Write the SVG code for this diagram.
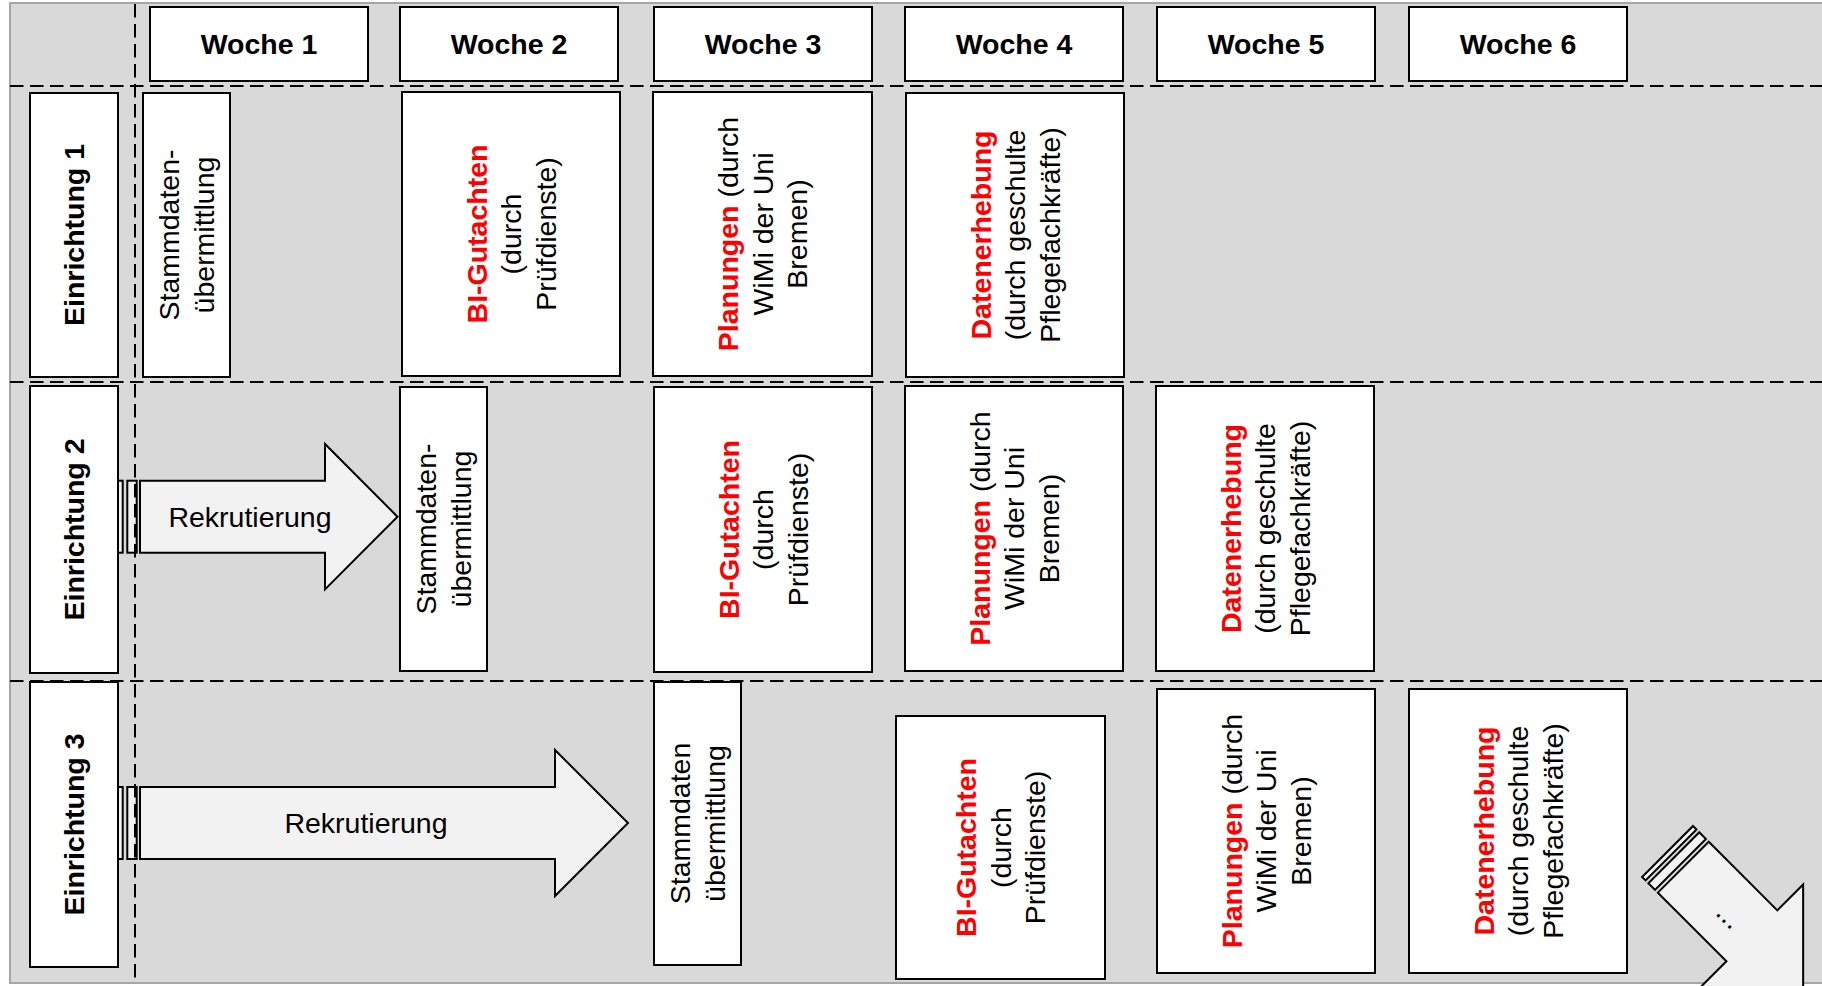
<svg xmlns="http://www.w3.org/2000/svg" width="1822" height="986" viewBox="0 0 1822 986">
<style>
text{font-family:"Liberation Sans",Arial,sans-serif;font-size:28.5px;fill:#000}
.b{font-weight:bold}
.red{fill:#ff0000;font-weight:bold}
.box{fill:#fff;stroke:#000;stroke-width:2}
.arr{fill:#f2f2f2;stroke:#000;stroke-width:2;stroke-linejoin:miter}
.grid{stroke:#000;stroke-width:2;stroke-dasharray:13.5 6.5;fill:none}
</style>
<rect x="10" y="3" width="1830" height="980" fill="#d9d9d9" stroke="#a6a6a6" stroke-width="2"/>

<g id="arrow-rekrutierung-2">
<rect class="arr" x="117.7" y="480.7" width="5" height="72"/>
<rect class="arr" x="127.3" y="480.7" width="9.4" height="72"/>
<polygon class="arr" points="140,480.7 325,480.7 325,444 397.5,516.7 325,589.4 325,552.7 140,552.7"/>
<text x="250" y="527" text-anchor="middle">Rekrutierung</text>
</g>
<g id="arrow-rekrutierung-3">
<rect class="arr" x="117.7" y="787" width="5" height="72"/>
<rect class="arr" x="127.3" y="787" width="9.4" height="72"/>
<polygon class="arr" points="140,787 555,787 555,750 628,823 555,896 555,859 140,859"/>
<text x="366" y="833" text-anchor="middle">Rekrutierung</text>
</g>
<g id="arrow-weiter" transform="translate(1683.3,867.2) rotate(45)">
<rect class="arr" x="-22.3" y="-36" width="5" height="72"/>
<rect class="arr" x="-13.4" y="-36" width="9.4" height="72"/>
<polygon class="arr" points="0,-36 97,-36 97,-72.5 169.5,0 97,72.5 97,36 0,36"/>
<text x="67" y="11" text-anchor="middle">...</text>
</g>

<g id="woche-1"><rect class="box" x="150" y="7" width="218" height="74"/><text class="b" x="259" y="54" text-anchor="middle">Woche 1</text></g>
<g id="woche-2"><rect class="box" x="400" y="7" width="218" height="74"/><text class="b" x="509" y="54" text-anchor="middle">Woche 2</text></g>
<g id="woche-3"><rect class="box" x="654" y="7" width="218" height="74"/><text class="b" x="763" y="54" text-anchor="middle">Woche 3</text></g>
<g id="woche-4"><rect class="box" x="905" y="7" width="218" height="74"/><text class="b" x="1014" y="54" text-anchor="middle">Woche 4</text></g>
<g id="woche-5"><rect class="box" x="1157" y="7" width="218" height="74"/><text class="b" x="1266" y="54" text-anchor="middle">Woche 5</text></g>
<g id="woche-6"><rect class="box" x="1409" y="7" width="218" height="74"/><text class="b" x="1518" y="54" text-anchor="middle">Woche 6</text></g>

<g id="einrichtung-1"><rect class="box" x="30" y="93" width="88" height="284"/><g transform="translate(74,235) rotate(-90)"><text class="b" x="0" y="10" text-anchor="middle">Einrichtung 1</text></g></g>
<g id="einrichtung-2"><rect class="box" x="30" y="386" width="88" height="287"/><g transform="translate(74,529.5) rotate(-90)"><text class="b" x="0" y="10" text-anchor="middle">Einrichtung 2</text></g></g>
<g id="einrichtung-3"><rect class="box" x="30" y="682" width="88" height="285"/><g transform="translate(74,824.5) rotate(-90)"><text class="b" x="0" y="10" text-anchor="middle">Einrichtung 3</text></g></g>

<g id="e1-stammdaten"><rect class="box" x="143" y="93" width="87" height="284"/><g transform="translate(186.5,235) rotate(-90)"><text text-anchor="middle"><tspan x="0" y="-7.25">Stammdaten-</tspan><tspan x="0" y="27.25">übermittlung</tspan></text></g></g>
<g id="e1-bi"><rect class="box" x="402" y="92" width="218" height="284"/><g transform="translate(511,234) rotate(-90)"><text text-anchor="middle"><tspan class="red" x="0" y="-24.5">BI-Gutachten</tspan><tspan x="0" y="10">(durch</tspan><tspan x="0" y="44.5">Prüfdienste)</tspan></text></g></g>
<g id="e1-planungen"><rect class="box" x="653" y="92" width="219" height="284"/><g transform="translate(762.5,234) rotate(-90)"><text text-anchor="middle"><tspan class="red" x="0" y="-24.5">Planungen</tspan><tspan> (durch</tspan><tspan x="0" y="10">WiMi der Uni</tspan><tspan x="0" y="44.5">Bremen)</tspan></text></g></g>
<g id="e1-daten"><rect class="box" x="906" y="93" width="218" height="284"/><g transform="translate(1015,235) rotate(-90)"><text text-anchor="middle"><tspan class="red" x="0" y="-24.5">Datenerhebung</tspan><tspan x="0" y="10">(durch geschulte</tspan><tspan x="0" y="44.5">Pflegefachkräfte)</tspan></text></g></g>

<g id="e2-stammdaten"><rect class="box" x="400" y="387" width="87" height="284"/><g transform="translate(443.5,529) rotate(-90)"><text text-anchor="middle"><tspan x="0" y="-7.25">Stammdaten-</tspan><tspan x="0" y="27.25">übermittlung</tspan></text></g></g>
<g id="e2-bi"><rect class="box" x="654" y="387" width="218" height="285"/><g transform="translate(763,529.5) rotate(-90)"><text text-anchor="middle"><tspan class="red" x="0" y="-24.5">BI-Gutachten</tspan><tspan x="0" y="10">(durch</tspan><tspan x="0" y="44.5">Prüfdienste)</tspan></text></g></g>
<g id="e2-planungen"><rect class="box" x="905" y="386" width="218" height="285"/><g transform="translate(1014,528.5) rotate(-90)"><text text-anchor="middle"><tspan class="red" x="0" y="-24.5">Planungen</tspan><tspan> (durch</tspan><tspan x="0" y="10">WiMi der Uni</tspan><tspan x="0" y="44.5">Bremen)</tspan></text></g></g>
<g id="e2-daten"><rect class="box" x="1156" y="386" width="218" height="285"/><g transform="translate(1265,528.5) rotate(-90)"><text text-anchor="middle"><tspan class="red" x="0" y="-24.5">Datenerhebung</tspan><tspan x="0" y="10">(durch geschulte</tspan><tspan x="0" y="44.5">Pflegefachkräfte)</tspan></text></g></g>

<g id="e3-stammdaten"><rect class="box" x="654" y="682" width="87" height="283"/><g transform="translate(697.5,823.5) rotate(-90)"><text text-anchor="middle"><tspan x="0" y="-7.25">Stammdaten</tspan><tspan x="0" y="27.25">übermittlung</tspan></text></g></g>
<g id="e3-bi"><rect class="box" x="896" y="716" width="209" height="263"/><g transform="translate(1000.5,847.5) rotate(-90)"><text text-anchor="middle"><tspan class="red" x="0" y="-24.5">BI-Gutachten</tspan><tspan x="0" y="10">(durch</tspan><tspan x="0" y="44.5">Prüfdienste)</tspan></text></g></g>
<g id="e3-planungen"><rect class="box" x="1157" y="689" width="218" height="284"/><g transform="translate(1266,831) rotate(-90)"><text text-anchor="middle"><tspan class="red" x="0" y="-24.5">Planungen</tspan><tspan> (durch</tspan><tspan x="0" y="10">WiMi der Uni</tspan><tspan x="0" y="44.5">Bremen)</tspan></text></g></g>
<g id="e3-daten"><rect class="box" x="1409" y="689" width="218" height="284"/><g transform="translate(1518,831) rotate(-90)"><text text-anchor="middle"><tspan class="red" x="0" y="-24.5">Datenerhebung</tspan><tspan x="0" y="10">(durch geschulte</tspan><tspan x="0" y="44.5">Pflegefachkräfte)</tspan></text></g></g>

<g id="grid">
<line class="grid" x1="135" y1="4" x2="135" y2="983"/>
<line class="grid" x1="10" y1="86" x2="1822" y2="86"/>
<line class="grid" x1="10" y1="382" x2="1822" y2="382"/>
<line class="grid" x1="10" y1="681" x2="1822" y2="681"/>
</g>
</svg>
